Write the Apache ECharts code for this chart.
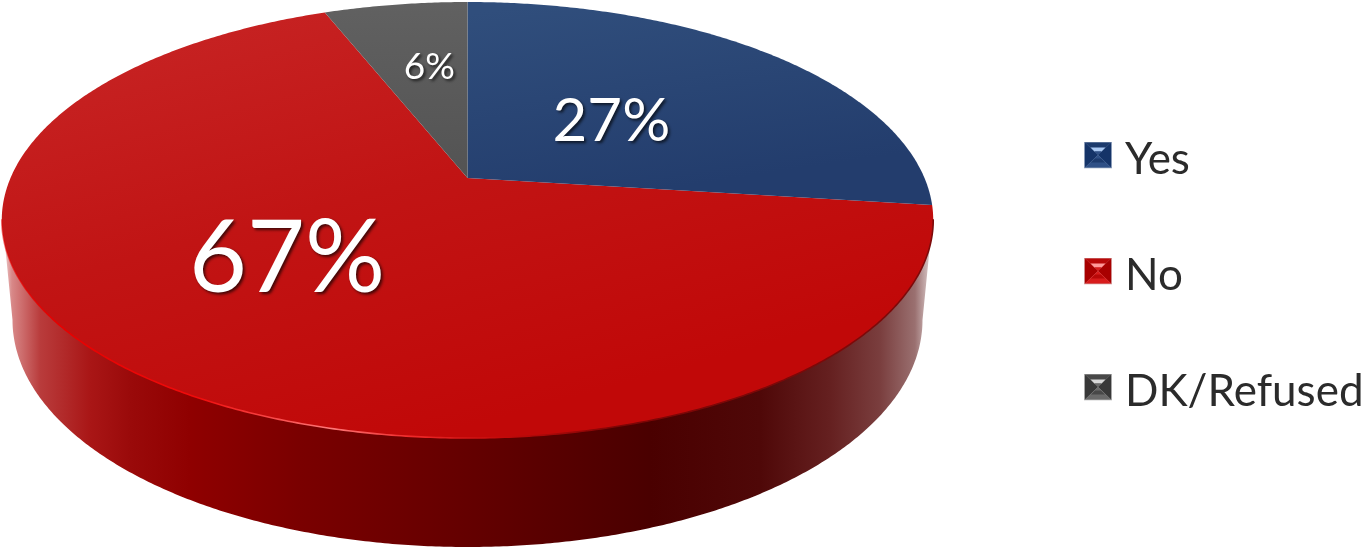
<!DOCTYPE html>
<html>
<head>
<meta charset="utf-8">
<style>html,body{margin:0;padding:0;background:#fff}#c{width:1361px;height:548px}</style>
<script src="https://cdn.jsdelivr.net/npm/echarts@6/dist/echarts.min.js"></script>
</head>
<body>
<div id="c"></div>
<script>
const categories = ['Yes', 'No', 'DK/Refused'];
const values = [27, 67, 6];

const G = echarts.graphic;
const disc = { x: 467.5, y: 178, R: 457, a: 175.6, c: -0.1927 };
const base = { x: 467.5, y: 320, rx: 455, ry: 227 };
const total = values.reduce((s, v) => s + v, 0);
function project(theta, f) {
  const u = Math.sin(theta) * f, v = -Math.cos(theta) * f, d = 1 + disc.c * v;
  return [disc.x + disc.R * u / d, disc.y + (disc.a * v) / d + disc.y * (1 / d - 1)];
}
function rimPoints(a0, a1) {
  const n = Math.max(2, Math.ceil(Math.abs(a1 - a0) / (Math.PI / 360))), pts = [];
  for (let i = 0; i <= n; i++) pts.push(project(a0 + (a1 - a0) * i / n, 1));
  return pts;
}
const stops = l => l.map(s => ({ offset: s[0], color: s[1] }));
const fills = [
  new G.LinearGradient(560, 0, 590, 200, stops([[0, '#304e7c'], [1, '#233d6d']]), true),
  new G.LinearGradient(300, 0, 420, 440, stops([[0, '#c62222'], [0.45, '#c11414'], [1, '#c10808']]), true),
  new G.LinearGradient(400, 0, 400, 180, stops([[0, '#616161'], [1, '#535353']]), true)
];
const labelStyle = [
  { size: 60, f: 0.45, dx: -2, dy: 3 },
  { size: 100, f: 0.45, dx: -45, dy: 2 },
  { size: 37, f: 0.6, dx: 8, dy: 0 }
];
const legendIcon = [
  ['#8b9cb8', '#1a3a70', '#a9c8f2', '#2f5086', '#1c3a6c', '#153468'],
  ['#d09090', '#b00404', '#ff9a9a', '#d81c1c', '#b80808', '#a80000'],
  ['#a8a8a8', '#3e3e3e', '#d8d8d8', '#6a6a6a', '#484848', '#383838']
].map(c => 'image://data:image/svg+xml;utf8,' + encodeURIComponent(
  `<svg xmlns="http://www.w3.org/2000/svg" width="28" height="27" viewBox="0 0 28 27">
   <rect width="28" height="27" fill="${c[0]}"/>
   <polygon points="1,1 27,1 14,13.5" fill="${c[4]}"/>
   <polygon points="1,1 1,26 14,13.5" fill="${c[5]}"/>
   <polygon points="27,1 27,26 14,13.5" fill="${c[5]}"/>
   <polygon points="6.5,6 21.5,6 17.5,10 10.5,10" fill="${c[2]}"/>
   <polygon points="10.5,10 17.5,10 14,13.5" fill="${c[3]}"/>
   <polygon points="1,26 27,26 14,13.5" fill="${c[3]}"/>
   <polygon points="7,21 21,21 17,17 11,17" fill="${c[4]}"/>
  </svg>`));

function wall() {
  const lower = [];
  for (let i = 0; i <= 360; i++) {
    const t = Math.PI * i / 360;
    lower.push([base.x + base.rx * Math.cos(t), base.y + base.ry * Math.sin(t)]);
  }
  const xs = [[2, '#f3e2e2'], [12, '#d88888'], [40, '#b93c3c'], [90, '#a91616'], [130, '#9a0a0a'], [190, '#8f0000'],
    [300, '#7a0000'], [467, '#640000'], [650, '#4a0000'], [760, '#4f0808'], [830, '#652020'], [880, '#7a3e3e'], [915, '#9a7070'], [933, '#e4d8d8']];
  const grad = new G.LinearGradient(2, 0, 933, 0, stops(xs.map(s => [(s[0] - 2) / 931, s[1]])), true);
  const rimStops = [[2, 'rgba(230,0,0,.5)'], [60, '#e60000'], [200, '#f00c0c'], [330, '#ff7a7a'], [410, '#f02a2a'], [500, '#c40a0a'],
    [620, '#7d0505'], [933, '#7d0a0a']];
  return [
    { type: 'polygon', shape: { points: [[2.5, 220]].concat(lower.slice().reverse(), [[932.5, 220]]) }, style: { fill: grad } },
    { type: 'polyline', z2: 5, shape: { points: rimPoints(Math.PI * 1.5 - 0.19, Math.PI * 0.5 + 0.19) },
      style: { fill: null, lineWidth: 1.6, stroke: new G.LinearGradient(2, 0, 933, 0, stops(rimStops.map(s => [(s[0] - 2) / 931, s[1]])), true) } }
  ];
}

const series = categories.map((name, i) => {
  const before = values.slice(0, i).reduce((s, v) => s + v, 0);
  return {
    type: 'custom', name, coordinateSystem: 'none', silent: true, z: i === 1 ? 1 : 2,
    data: [[values[i]]],
    renderItem(params, api) {
      const v = api.value(0);
      const a0 = before / total * 2 * Math.PI, a1 = (before + v) / total * 2 * Math.PI;
      const mid = (a0 + a1) / 2, ls = labelStyle[i], p = project(mid, ls.f);
      const children = [
        { type: 'polygon', z2: 1, shape: { points: [[disc.x, disc.y]].concat(rimPoints(a0, a1)) }, style: { fill: fills[i] } },
        { type: 'text', z2: 10, x: p[0] + ls.dx, y: p[1] + ls.dy,
          style: { text: v + '%', fill: '#fff', font: ls.size + 'px Lato', align: 'center', verticalAlign: 'middle',
            textShadowColor: 'rgba(0,0,0,.65)', textShadowBlur: 3, textShadowOffsetX: 2, textShadowOffsetY: 2 } }
      ];
      return { type: 'group', children: i === 1 ? wall().concat(children) : children };
    }
  };
});

const chart = echarts.init(document.getElementById('c'), null, { renderer: 'canvas' });
chart.setOption({
  animation: false,
  backgroundColor: '#fff',
  legend: {
    orient: 'vertical', left: 1084, top: 138, itemWidth: 28, itemHeight: 27, itemGap: 72, padding: 0,
    selectedMode: false,
    data: categories.map((name, i) => ({ name, icon: legendIcon[i] })),
    formatter: '{t|{name}}',
    textStyle: { rich: { t: { fontFamily: 'Lato', fontSize: 44, color: '#2b2b2b', padding: [10, 0, 0, 8] } } }
  },
  series
});
</script>
</body>
</html>
